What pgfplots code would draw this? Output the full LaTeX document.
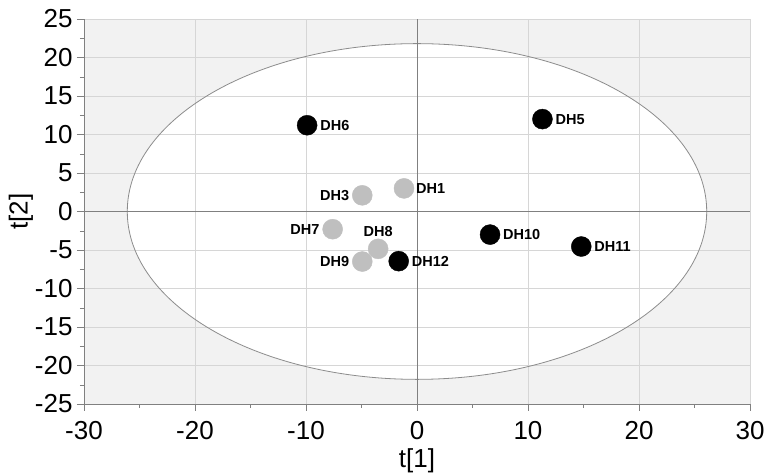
\documentclass[border=0pt]{standalone}
\usepackage{pgfplots}
\pgfplotsset{compat=1.18}
\usepackage{pgfplotstable}
\usepackage{fontspec}
\setmainfont{Liberation Sans}
\definecolor{bgray}{HTML}{F2F2F2}
\definecolor{gridc}{HTML}{D6D6D6}
\definecolor{axc}{HTML}{808080}
\definecolor{ellc}{HTML}{8C8C8C}
\definecolor{ptgray}{HTML}{BFBFBF}

% gray points, label to the right
\pgfplotstableread{
x y label
-1.17 3.0 DH1
}\grayright
% gray points, label to the left
\pgfplotstableread{
x y label
-4.93 2.1 DH3
-7.6 -2.3 DH7
-4.93 -6.5 DH9
}\grayleft
% gray points, label above
\pgfplotstableread{
x y label
-3.5 -4.85 DH8
}\grayabove
% black points, label to the right
\pgfplotstableread{
x y label
11.3 12.0 DH5
-9.9 11.2 DH6
6.58 -3.0 DH10
14.8 -4.55 DH11
-1.65 -6.45 DH12
}\blackdata

\pgfplotsset{
  pt/.style={only marks, mark=*, mark size=10pt, mark options={fill=#1, draw=#1},
    point meta=explicit symbolic, nodes near coords},
  lab/.style={nodes near coords style={font=\fontsize{14.5}{14.5}\selectfont\bfseries, text=black, inner sep=1pt, #1}},
}

\begin{document}
\begin{tikzpicture}
\begin{axis}[
  name=ax,
  set layers,
  scale only axis,
  width=666pt, height=385pt,
  xmin=-30, xmax=30, ymin=-25, ymax=25,
  xtick={-30,-20,...,30}, ytick={-25,-20,...,25},
  minor x tick num=1, minor y tick num=1,
  axis x line*=bottom, axis y line*=left,
  x axis line style={-, draw=axc},
  y axis line style={-, draw=axc},
  tick align=outside,
  major tick length=7pt, minor tick length=4pt,
  every tick/.style={draw=axc},
  grid=major,
  major grid style={draw=gridc, line width=0.8pt},
  axis background/.style={fill=bgray},
  /pgf/number format/assume math mode=true,
  ticklabel style={font=\fontsize{26}{26}\selectfont},
  xticklabel style={yshift=-7pt},
  yticklabel style={xshift=-1pt},
  xlabel={t[1]}, ylabel={t[2]},
  every axis x label/.style={at={(axis description cs:0.5,0)}, anchor=center, yshift=-57pt, font=\fontsize{26}{26}\selectfont},
  every axis y label/.style={at={(axis description cs:0,0.5)}, anchor=center, rotate=90, yshift=63pt, font=\fontsize{26}{26}\selectfont},
  clip=false,
]
\begin{pgfonlayer}{axis background}
  \fill[white] (axis cs:0,0) ellipse [x radius=26.1, y radius=21.8];
\end{pgfonlayer}
\draw[ellc, line width=0.8pt] (axis cs:0,0) ellipse [x radius=26.1, y radius=21.8];
\draw[axc, line width=1pt] (axis cs:0,-25) -- (axis cs:0,25);
\draw[axc, line width=1pt] (axis cs:-30,0) -- (axis cs:30,0);

\addplot[pt=ptgray, lab={anchor=west, xshift=11pt}] table[x=x, y=y, meta=label] {\grayright};
\addplot[pt=ptgray, lab={anchor=east, xshift=-12pt}] table[x=x, y=y, meta=label] {\grayleft};
\addplot[pt=ptgray, lab={anchor=south, yshift=11pt}] table[x=x, y=y, meta=label] {\grayabove};
\addplot[pt=black, lab={anchor=west, xshift=12pt}] table[x=x, y=y, meta=label] {\blackdata};
\end{axis}
\pgfresetboundingbox
\path ([shift={(-84pt,-71pt)}]ax.south west) rectangle ([shift={(14pt,19pt)}]ax.north east);
\end{tikzpicture}
\end{document}
